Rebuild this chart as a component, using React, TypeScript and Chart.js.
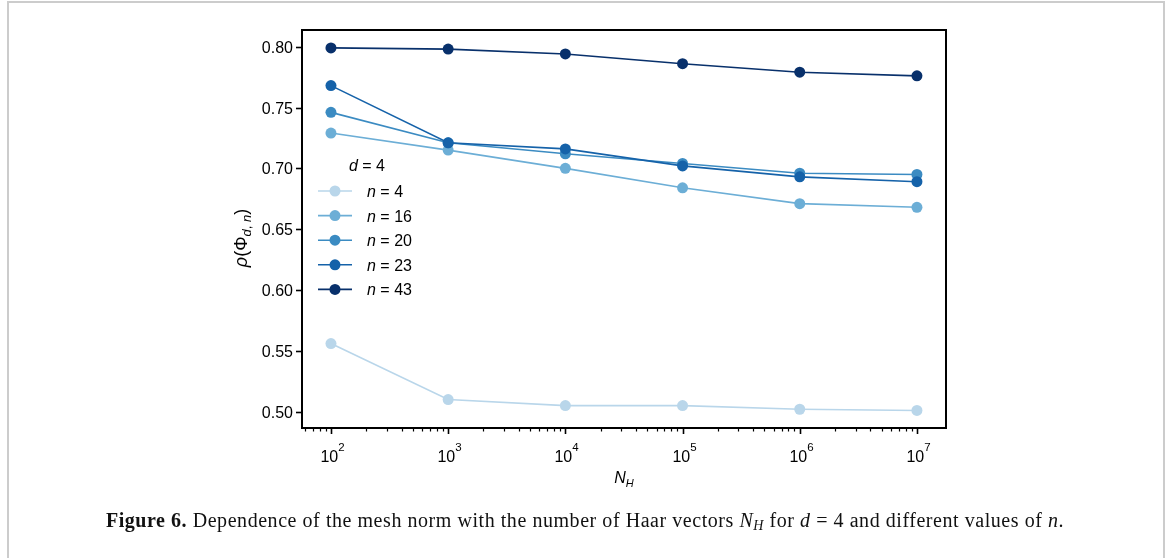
import React, { useEffect, useRef } from 'react';
import { Chart, registerables } from 'chart.js';

Chart.register(...registerables);

// ---- data ----
const haarVectorCounts = [1e2, 1e3, 1e4, 1e5, 1e6, 1e7];
const rhoN4 = [0.556, 0.510, 0.505, 0.505, 0.502, 0.501];
const rhoN16 = [0.729, 0.715, 0.700, 0.684, 0.671, 0.668];
const rhoN20 = [0.746, 0.721, 0.712, 0.704, 0.696, 0.695];
const rhoN23 = [0.768, 0.721, 0.716, 0.702, 0.693, 0.689];
const rhoN43 = [0.799, 0.798, 0.794, 0.786, 0.779, 0.776];
const seriesN = ['4', '16', '20', '23', '43'];
const seriesValues = [rhoN4, rhoN16, rhoN20, rhoN23, rhoN43];
const seriesColors = ['#b9d6ea', '#6caed6', '#3b8bc2', '#1562a9', '#08306b'];
const yTickValues = [0.5, 0.55, 0.6, 0.65, 0.7, 0.75, 0.8];
const yTickLabels = ['0.50', '0.55', '0.60', '0.65', '0.70', '0.75', '0.80'];
const xTickExponents = [2, 3, 4, 5, 6, 7];
const xMinorDecades = [1, 2, 3, 4, 5, 6, 7];
const xMin = 56.6;
const xMax = 1.77e7;
const yMin = 0.4866;
const yMax = 0.8137;

const SANS = '"Liberation Sans", Arial, Helvetica, sans-serif';

type Run = { text: string; font: string; dy?: number };

function drawRuns(ctx: CanvasRenderingContext2D, runs: Run[], x: number, y: number, align: 'left' | 'center' | 'right') {
  ctx.textAlign = 'left';
  let total = 0;
  const widths = runs.map((r) => {
    ctx.font = r.font;
    const w = ctx.measureText(r.text).width;
    total += w;
    return w;
  });
  let cx = align === 'center' ? x - total / 2 : align === 'right' ? x - total : x;
  runs.forEach((r, i) => {
    ctx.font = r.font;
    ctx.fillText(r.text, cx, y + (r.dy || 0));
    cx += widths[i];
  });
}

const decorPlugin = {
  id: 'decor',
  afterDraw(chart: any) {
    const ctx: CanvasRenderingContext2D = chart.ctx;
    const { left, right, top, bottom } = chart.chartArea;
    const xs = chart.scales.x;
    const ys = chart.scales.y;
    ctx.save();
    ctx.fillStyle = '#000';
    ctx.strokeStyle = '#000';

    // frame
    ctx.lineWidth = 2;
    ctx.strokeRect(left, top, right - left, bottom - top);

    // y ticks
    ctx.lineWidth = 1.6;
    ctx.textBaseline = 'middle';
    yTickValues.forEach((v, i) => {
      const py = Math.round(ys.getPixelForValue(v)) + 0.5;
      ctx.beginPath();
      ctx.moveTo(left - 6, py);
      ctx.lineTo(left, py);
      ctx.stroke();
      drawRuns(ctx, [{ text: yTickLabels[i], font: `16px ${SANS}` }], left - 9, py + 1, 'right');
    });

    // x minor ticks
    ctx.lineWidth = 1.2;
    xMinorDecades.forEach((e) => {
      for (let m = 2; m <= 9; m++) {
        const v = m * Math.pow(10, e);
        if (v < xMin || v > xMax) continue;
        const px = Math.round(xs.getPixelForValue(v)) + 0.5;
        ctx.beginPath();
        ctx.moveTo(px, bottom);
        ctx.lineTo(px, bottom + 3.5);
        ctx.stroke();
      }
    });

    // x major ticks & labels
    ctx.lineWidth = 1.6;
    ctx.textBaseline = 'alphabetic';
    xTickExponents.forEach((e) => {
      const px = Math.round(xs.getPixelForValue(Math.pow(10, e))) + 0.5;
      ctx.beginPath();
      ctx.moveTo(px, bottom);
      ctx.lineTo(px, bottom + 6);
      ctx.stroke();
      drawRuns(
        ctx,
        [
          { text: '10', font: `16px ${SANS}` },
          { text: String(e), font: `11.5px ${SANS}`, dy: -11 },
        ],
        px + 1,
        bottom + 34,
        'center'
      );
    });

    // x axis title
    drawRuns(
      ctx,
      [
        { text: 'N', font: `italic 16px ${SANS}` },
        { text: 'H', font: `italic 11px ${SANS}`, dy: 4 },
      ],
      (left + right) / 2,
      bottom + 55,
      'center'
    );

    // y axis title
    ctx.save();
    ctx.translate(left - 55, (top + bottom) / 2 + 9);
    ctx.rotate(-Math.PI / 2);
    drawRuns(
      ctx,
      [
        { text: 'ρ', font: `italic 18px ${SANS}` },
        { text: '(Φ', font: `18px ${SANS}` },
        { text: 'd', font: `italic 13px ${SANS}`, dy: 4 },
        { text: ', ', font: `13px ${SANS}`, dy: 4 },
        { text: 'n', font: `italic 13px ${SANS}`, dy: 4 },
        { text: ')', font: `18px ${SANS}` },
      ],
      0,
      0,
      'center'
    );
    ctx.restore();

    // legend
    const lx = left + 16;
    const titleY = top + 135;
    drawRuns(
      ctx,
      [
        { text: 'd', font: `italic 16px ${SANS}` },
        { text: ' = 4', font: `16px ${SANS}` },
      ],
      left + 65,
      titleY + 6,
      'center'
    );
    seriesN.forEach((n, i) => {
      const ey = top + 161 + i * 24.6;
      ctx.strokeStyle = seriesColors[i];
      ctx.fillStyle = seriesColors[i];
      ctx.lineWidth = 1.6;
      ctx.beginPath();
      ctx.moveTo(lx, ey);
      ctx.lineTo(lx + 34, ey);
      ctx.stroke();
      ctx.beginPath();
      ctx.arc(lx + 17, ey, 5.5, 0, Math.PI * 2);
      ctx.fill();
      ctx.fillStyle = '#000';
      drawRuns(
        ctx,
        [
          { text: 'n', font: `italic 16px ${SANS}` },
          { text: ' = ' + n, font: `16px ${SANS}` },
        ],
        left + 65,
        ey + 6,
        'left'
      );
    });

    ctx.restore();
  },
};

export default function App() {
  const canvasRef = useRef<HTMLCanvasElement | null>(null);

  useEffect(() => {
    const canvas = canvasRef.current;
    if (!canvas) return;
    const datasets = seriesValues.map((vals, i) => ({
      label: 'n = ' + seriesN[i],
      data: vals.map((v, j) => ({ x: haarVectorCounts[j], y: v })),
      borderColor: seriesColors[i],
      backgroundColor: seriesColors[i],
      pointBackgroundColor: seriesColors[i],
      pointBorderColor: seriesColors[i],
      pointRadius: 5.5,
      pointBorderWidth: 0,
      borderWidth: 1.6,
      tension: 0,
      order: seriesValues.length - 1 - i,
    }));
    const chart = new Chart(canvas, {
      type: 'line',
      data: { datasets },
      options: {
        responsive: false,
        animation: false,
        devicePixelRatio: 1,
        layout: { padding: { left: 302, right: 224, top: 30, bottom: 130 } },
        plugins: { legend: { display: false }, tooltip: { enabled: false } },
        scales: {
          x: {
            type: 'logarithmic',
            min: xMin,
            max: xMax,
            grid: { display: false, drawTicks: false },
            border: { display: false },
            ticks: { display: false },
          },
          y: {
            type: 'linear',
            min: yMin,
            max: yMax,
            grid: { display: false, drawTicks: false },
            border: { display: false },
            ticks: { display: false },
          },
        },
      },
      plugins: [decorPlugin],
    });
    return () => chart.destroy();
  }, []);

  return (
    <div style={{ position: 'absolute', left: 0, top: 0, width: 1170, height: 558, overflow: 'hidden', background: '#fff' }}>
      <div
        style={{
          position: 'absolute',
          left: 7,
          top: 1,
          width: 1154,
          height: 600,
          borderTop: '2px solid #cccccc',
          borderLeft: '2px solid #cccccc',
          borderRight: '2px solid #cccccc',
        }}
      />
      <canvas ref={canvasRef} width={1170} height={558} style={{ position: 'absolute', left: 0, top: 0, display: 'block' }} />
      <div
        style={{
          position: 'absolute',
          left: 0,
          top: 509,
          width: 1170,
          textAlign: 'center',
          fontFamily: '"Liberation Serif", "Times New Roman", serif',
          fontSize: 20,
          letterSpacing: '0.55px',
          lineHeight: '22px',
          color: '#111',
          whiteSpace: 'nowrap',
        }}
      >
        <b>Figure 6.</b> Dependence of the mesh norm with the number of Haar vectors <i>N</i>
        <sub style={{ fontSize: 14, lineHeight: 0, verticalAlign: '-3px' }}>
          <i>H</i>
        </sub>{' '}
        for <i>d</i> = 4 and different values of <i>n</i>.
      </div>
    </div>
  );
}
